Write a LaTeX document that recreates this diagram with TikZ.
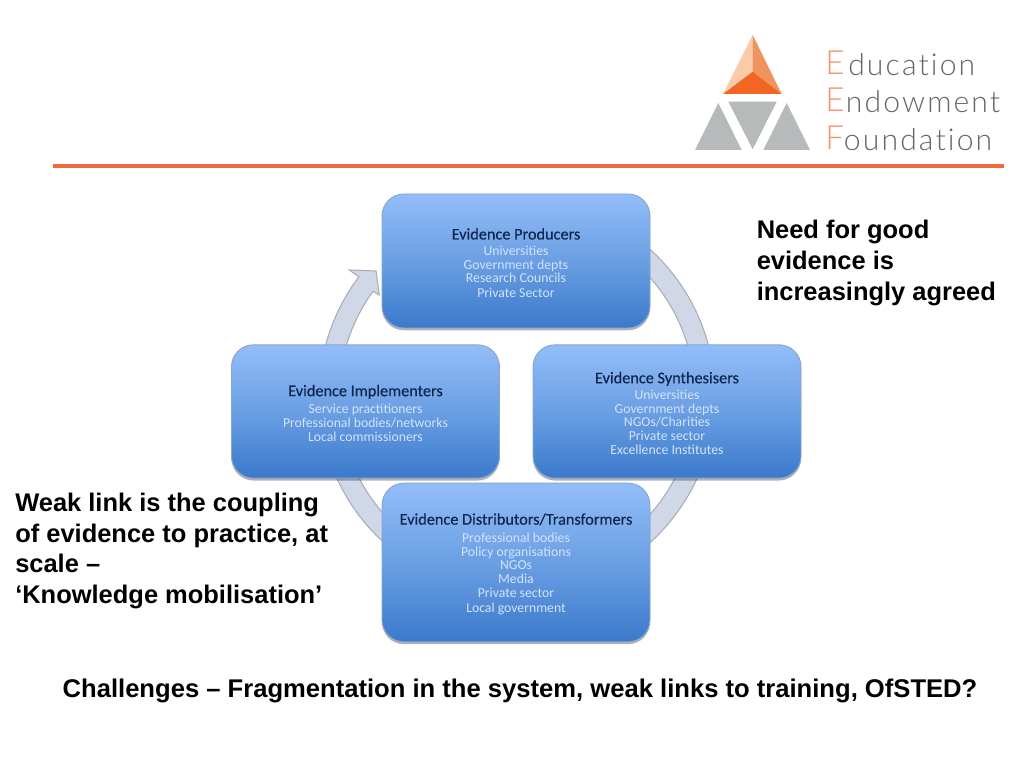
\documentclass[tikz,border=0pt]{standalone}
\usepackage{fontspec}
\setmainfont{Liberation Sans}
\newfontfamily\boxfont{Carlito}
\newfontfamily\headfont[RawFeature={embolden=0.35}]{Carlito}
\newfontfamily\logofont[LetterSpace=7,Ligatures=NoCommon]{Lato Light}
\usetikzlibrary{shadows,calc}
\definecolor{ringfill}{HTML}{D0D8E8}
\definecolor{ringline}{HTML}{A9AEB6}
\definecolor{boxtop}{HTML}{93BDF9}
\definecolor{boxmid}{HTML}{6A9FE3}
\definecolor{boxbot}{HTML}{3B79CB}
\definecolor{boxline}{HTML}{8AA5CC}
\definecolor{titlecol}{HTML}{12264C}
\definecolor{subcol}{HTML}{D3E2F8}
\definecolor{eeforange}{HTML}{F0693A}
\definecolor{eefsalmon}{HTML}{EE9670}
\definecolor{eefdeep}{HTML}{F26522}
\definecolor{eefmid}{HTML}{F0935C}
\definecolor{eeflight}{HTML}{F9CBA8}
\definecolor{eefgray}{HTML}{B6BABB}
\definecolor{logotext}{HTML}{666666}
\tikzset{
  evbox/.style={draw=boxline,line width=0.7pt,rounded corners=16.5pt,
    top color=boxtop,bottom color=boxbot,middle color=boxmid,
    drop shadow={shadow xshift=0pt,shadow yshift=-1.8pt,opacity=.3,fill=black},
    minimum width=201pt,align=center,inner sep=0pt,outer sep=0pt,
    font=\boxfont\fontsize{10.3}{10.3}\selectfont,text=subcol},
  saytext/.style={anchor=base west,inner sep=0pt,font=\fontsize{19.1}{23}\bfseries\selectfont,text=black},
  bottomtext/.style={anchor=base,inner sep=0pt,font=\fontsize{19.2}{23}\bfseries\selectfont,text=black},
  logoword/.style={anchor=base east,inner sep=0pt,font=\logofont\fontsize{22.6}{28}\selectfont,text=logotext},
  logoinit/.style={anchor=base west,inner sep=0pt,font=\logofont\fontsize{25}{28}\selectfont,text=eefsalmon},
}
\newcommand{\boxhead}[2]{\rule{0pt}{11pt}{\color{titlecol}\headfont\fontsize{12.2}{12}\selectfont #2}\\[#1]}
\begin{document}
\begin{tikzpicture}[x=0.75pt,y=0.75pt]
\useasboundingbox (0,0) rectangle (1024,768);
\fill[white] (0,0) rectangle (1024,768);
% ring
\coordinate (ringc) at (517,372);
\filldraw[fill=ringfill,draw=ringline,line width=0.8pt]
  ($(ringc)+(143:148.5pt)$) arc[start angle=143,end angle=420,radius=148.5pt]
  -- ($(ringc)+(420:133.5pt)$) arc[start angle=420,end angle=144,radius=133.5pt]
  -- (379.3,473) -- (376,497) -- (349.3,498) -- cycle;
% header
\draw[eeforange,line width=2.4pt] (53,602) -- (1004,602);
% logo
\coordinate (ap) at (752.7,733);
\coordinate (bl) at (723,674);
\coordinate (br) at (781.7,674);
\coordinate (mid) at (752.7,696.3);
\fill[eeflight] (ap) -- (bl) -- (mid) -- cycle;
\fill[eefmid] (ap) -- (br) -- (mid) -- cycle;
\fill[eefdeep] (bl) -- (br) -- (mid) -- cycle;
\fill[eefgray] (695,618) -- (741.7,618) -- (718.3,665) -- cycle;
\fill[eefgray] (728.3,666.3) -- (776.7,666.3) -- (752.7,618.7) -- cycle;
\fill[eefgray] (763.3,618) -- (810,618) -- (786.7,665) -- cycle;
\node[logoinit] (e1) at (825,693) {E};
\node[logoinit] (e2) at (825,656) {E};
\node[logoinit] (f1) at (825,618) {F};
\node[logoword] (w1) at (975.5,692.5) {ducation};
\node[logoword] (w2) at (1000.5,655.5) {ndowment};
\node[logoword] (w3) at (992.5,617.5) {oundation};
% boxes
\node[evbox,minimum height=100.5pt] (prod) at (516,507) {\boxhead{1.6pt}{Evidence Producers}Universities\\Government depts\\Research Councils\\[0.4pt]Private Sector};
\node[evbox,minimum height=100pt] (impl) at (365.5,356.5) {\boxhead{3pt}{Evidence Implementers}Service practitioners\\Professional bodies/networks\\Local commissioners};
\node[evbox,minimum height=100pt] (synth) at (667,356.5) {\boxhead{1.8pt}{Evidence Synthesisers}Universities\\Government depts\\NGOs/Charities\\Private sector\\Excellence Institutes};
\node[evbox,minimum height=119pt] (dist) at (516,205.5) {\boxhead{3pt}{Evidence Distributors/Transformers}Professional bodies\\Policy organisations\\NGOs\\Media\\Private sector\\[1.2pt]Local government};
% statements
\node[saytext] (n1) at (756.5,529) {Need for good};
\node[saytext] (n2) at (756.5,498) {evidence is};
\node[saytext] (n3) at (756.5,467.5) {increasingly agreed};
\node[saytext] (w1a) at (15,257) {Weak link is the coupling};
\node[saytext] (w2a) at (15,226) {of evidence to practice, at};
\node[saytext] (w3a) at (15,195.5) {scale --};
\node[saytext] (w4a) at (15,165) {‘Knowledge mobilisation’};
\node[bottomtext] (ch) at (520,71) {Challenges -- Fragmentation in the system, weak links to training, OfSTED?};
\end{tikzpicture}
\end{document}
